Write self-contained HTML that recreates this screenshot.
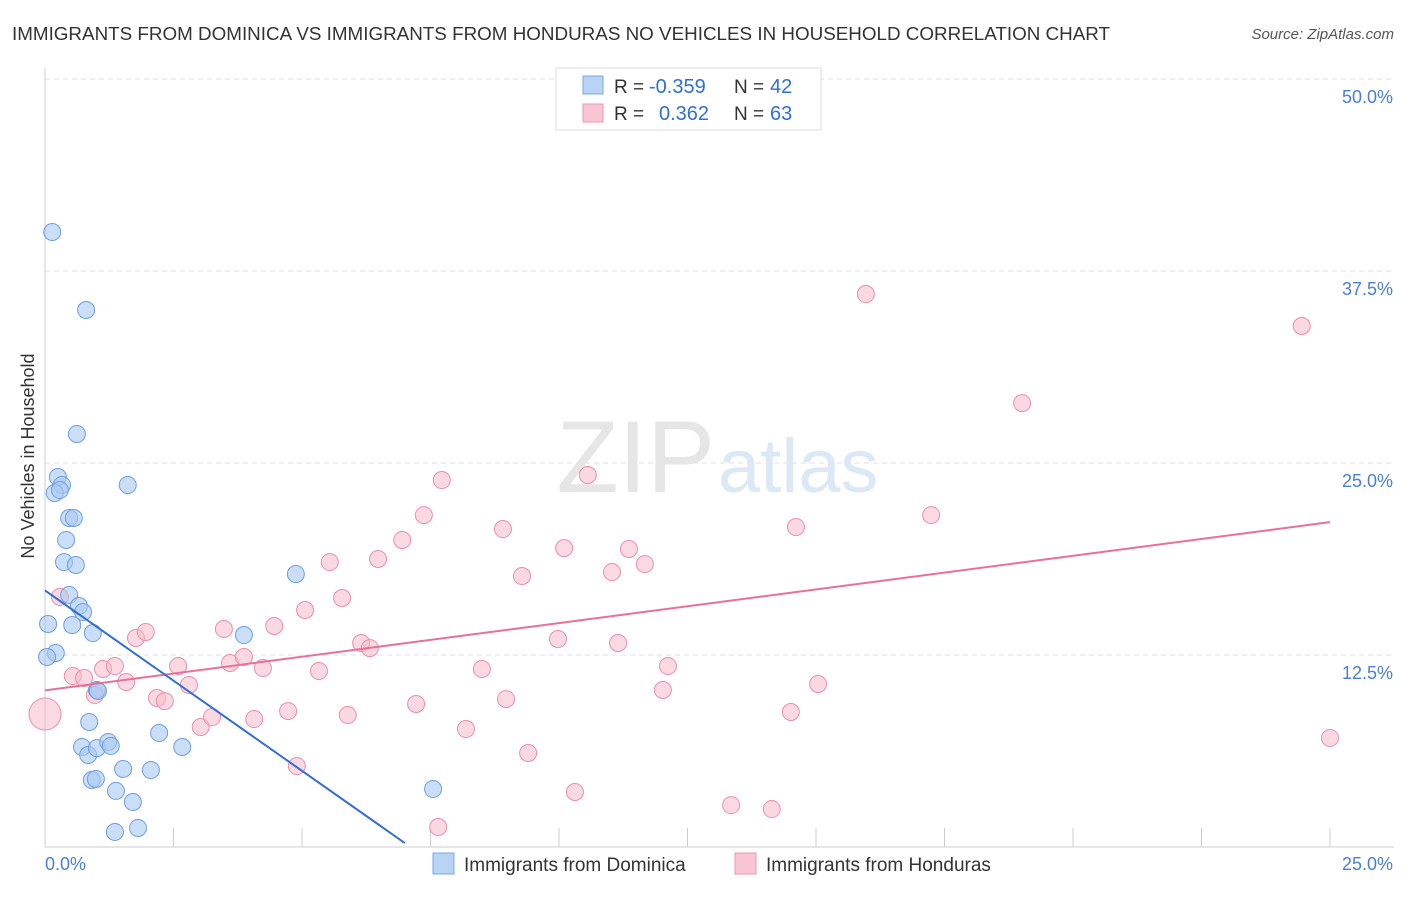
<!DOCTYPE html>
<html><head><meta charset="utf-8"><style>
body{margin:0;background:#fff;font-family:"Liberation Sans",sans-serif;}
svg text{font-family:"Liberation Sans",sans-serif;}
</style></head><body>
<svg id="chart" width="1406" height="892">
<text x="12" y="40" font-size="18" fill="#333" textLength="1098" lengthAdjust="spacingAndGlyphs">IMMIGRANTS FROM DOMINICA VS IMMIGRANTS FROM HONDURAS NO VEHICLES IN HOUSEHOLD CORRELATION CHART</text>
<text x="1394" y="39" font-size="15" fill="#555" font-style="italic" text-anchor="end">Source: ZipAtlas.com</text>
<text x="34" y="456" font-size="18" fill="#333" transform="rotate(-90 34 456)" text-anchor="middle">No Vehicles in Household</text>
<g id="grid"></g>
<text x="715" y="492" font-size="102" fill="#e6e6e6" text-anchor="end" font-family="Liberation Serif">ZIP</text>
<text x="718" y="492" font-size="76" fill="#dce8f6">atlas</text>
<g id="marks"></g>
<g>
<rect x="556" y="68" width="265" height="62" fill="#fff" stroke="#ddd"/>
<rect x="583" y="76" width="20" height="18" fill="#b8d3f4" stroke="#7aa8e4"/>
<rect x="583" y="104" width="20" height="18" fill="#f9c4d3" stroke="#ec97b0"/>
<text x="614" y="93" font-size="19" fill="#333">R =</text>
<text x="649" y="93" font-size="20" fill="#2f6fd6">-0.359</text>
<text x="734" y="93" font-size="19" fill="#333">N =</text>
<text x="770" y="93" font-size="20" fill="#2f6fd6">42</text>
<text x="614" y="120" font-size="19" fill="#333">R =</text>
<text x="659" y="120" font-size="20" fill="#2f6fd6">0.362</text>
<text x="734" y="120" font-size="19" fill="#333">N =</text>
<text x="770" y="120" font-size="20" fill="#2f6fd6">63</text>
</g>
<g>
<rect x="433" y="853" width="21" height="21" fill="#b8d3f4" stroke="#7aa8e4"/>
<text x="464" y="871" font-size="19" fill="#333">Immigrants from Dominica</text>
<rect x="735" y="853" width="21" height="21" fill="#f9c4d3" stroke="#ec97b0"/>
<text x="766" y="871" font-size="19" fill="#333">Immigrants from Honduras</text>
</g>
</svg>
<script>
const xTicks=[0,2.5,5,7.5,10,12.5,15,17.5,20,22.5,25];
const yTicks=[12.5,25,37.5,50];
const yTickLabels=["12.5%","25.0%","37.5%","50.0%"];
const xEndLabels=["0.0%","25.0%"];
const domX=[0.14,0.80,0.62,0.25,0.33,0.19,1.61,0.47,0.56,0.41,0.37,0.60,0.47,0.66,0.74,0.06,0.53,0.93,0.21,0.04,1.01,0.86,0.72,0.84,1.01,1.23,1.28,2.22,2.67,1.52,2.06,0.91,0.99,1.38,1.71,1.36,1.81,3.87,4.88,7.55,0.29,1.03];
const domY=[40.04,34.96,26.89,24.09,23.57,23.05,23.57,21.42,21.42,19.99,18.55,18.36,16.41,15.69,15.30,14.52,14.45,13.93,12.63,12.37,10.22,8.14,6.51,5.99,6.44,6.84,6.58,7.42,6.51,5.08,5.01,4.36,4.43,3.65,2.93,0.98,1.24,13.80,17.77,3.78,23.24,10.16];
const honX=[0.0,0.29,0.54,0.76,0.97,1.13,1.36,1.58,1.77,1.96,2.18,2.33,2.59,2.80,3.03,3.25,3.48,3.60,3.87,4.07,4.24,4.46,4.73,4.90,5.06,5.33,5.54,5.78,5.89,6.15,6.32,6.48,6.95,7.22,7.37,7.65,7.72,8.19,8.50,8.91,8.97,9.28,9.40,9.98,10.10,10.31,10.56,11.03,11.15,11.36,11.67,12.02,12.12,13.35,14.14,14.51,14.61,15.04,15.97,17.24,19.01,24.45,25.00];
const honY=[8.66,16.28,11.13,11.00,9.90,11.59,11.78,10.74,13.61,14.00,9.70,9.50,11.78,10.55,7.81,8.46,14.19,11.98,12.37,8.33,11.65,14.39,8.85,5.27,15.43,11.46,18.55,16.21,8.59,13.28,12.95,18.75,19.99,9.31,21.61,1.30,23.89,7.68,11.59,20.70,9.63,17.64,6.12,13.54,19.46,3.58,24.22,17.90,13.28,19.40,18.42,10.22,11.78,2.73,2.47,8.79,20.83,10.61,36.00,21.61,28.90,33.92,7.10];
const domTrendX=[0,7.0];
const domTrendY=[16.7,0.26];
const honTrendX=[0,25];
const honTrendY=[10.2,21.15];
const X=v=>45+v/25*1285;
const Y=v=>847-v/12.5*192;
const NS="http://www.w3.org/2000/svg";
function mk(tag,attrs,parent){const e=document.createElementNS(NS,tag);for(const k in attrs)e.setAttribute(k,attrs[k]);parent.appendChild(e);return e;}
const grid=document.getElementById('grid'),marks=document.getElementById('marks');
yTicks.forEach((t,i)=>{
 const l=mk('line',{x1:45,x2:1394,y1:Y(t),y2:Y(t),stroke:'#e0e0e0','stroke-dasharray':'5,4'},grid);
 
 
 const tx=mk('text',{x:1393,y:Y(t)+24,'font-size':18,fill:'#4a7fd4','text-anchor':'end'},grid);
 tx.textContent=yTickLabels[i];
 
 
});
const ax=mk('line',{x1:45,x2:1394,y1:847,y2:847,stroke:'#ccc'},grid);


const ay=mk('line',{x1:45,x2:45,y1:68,y2:847,stroke:'#ccc'},grid);


xTicks.forEach(t=>{
 const l=mk('line',{x1:X(t),x2:X(t),y1:828,y2:847,stroke:'#ccc'},grid);
 
 
});
[[0,'start',45],[1,'end',1393]].forEach(([i,a,x])=>{
 const t=mk('text',{x:x,y:870,'font-size':18,fill:'#4a7fd4','text-anchor':a},grid);
 t.textContent=xEndLabels[i];
 
 
});
honX.forEach((v,i)=>{
 const c=mk('circle',{cx:X(v),cy:Y(honY[i]),r:i===0?16:8.5,fill:'#f7b9cb','fill-opacity':0.55,stroke:'#e98fab','stroke-width':1},marks);
 
 
});
domX.forEach((v,i)=>{
 const c=mk('circle',{cx:X(v),cy:Y(domY[i]),r:8.5,fill:'#a9c8f1','fill-opacity':0.6,stroke:'#6d9fe0','stroke-width':1},marks);
 
 
});
const pl=mk('line',{x1:X(honTrendX[0]),y1:Y(honTrendY[0]),x2:X(honTrendX[1]),y2:Y(honTrendY[1]),stroke:'#e8709a','stroke-width':2},marks);


const bl=mk('line',{x1:X(domTrendX[0]),y1:Y(domTrendY[0]),x2:X(domTrendX[1]),y2:Y(domTrendY[1]),stroke:'#2f6fd6','stroke-width':2},marks);


</script>
</body></html>
